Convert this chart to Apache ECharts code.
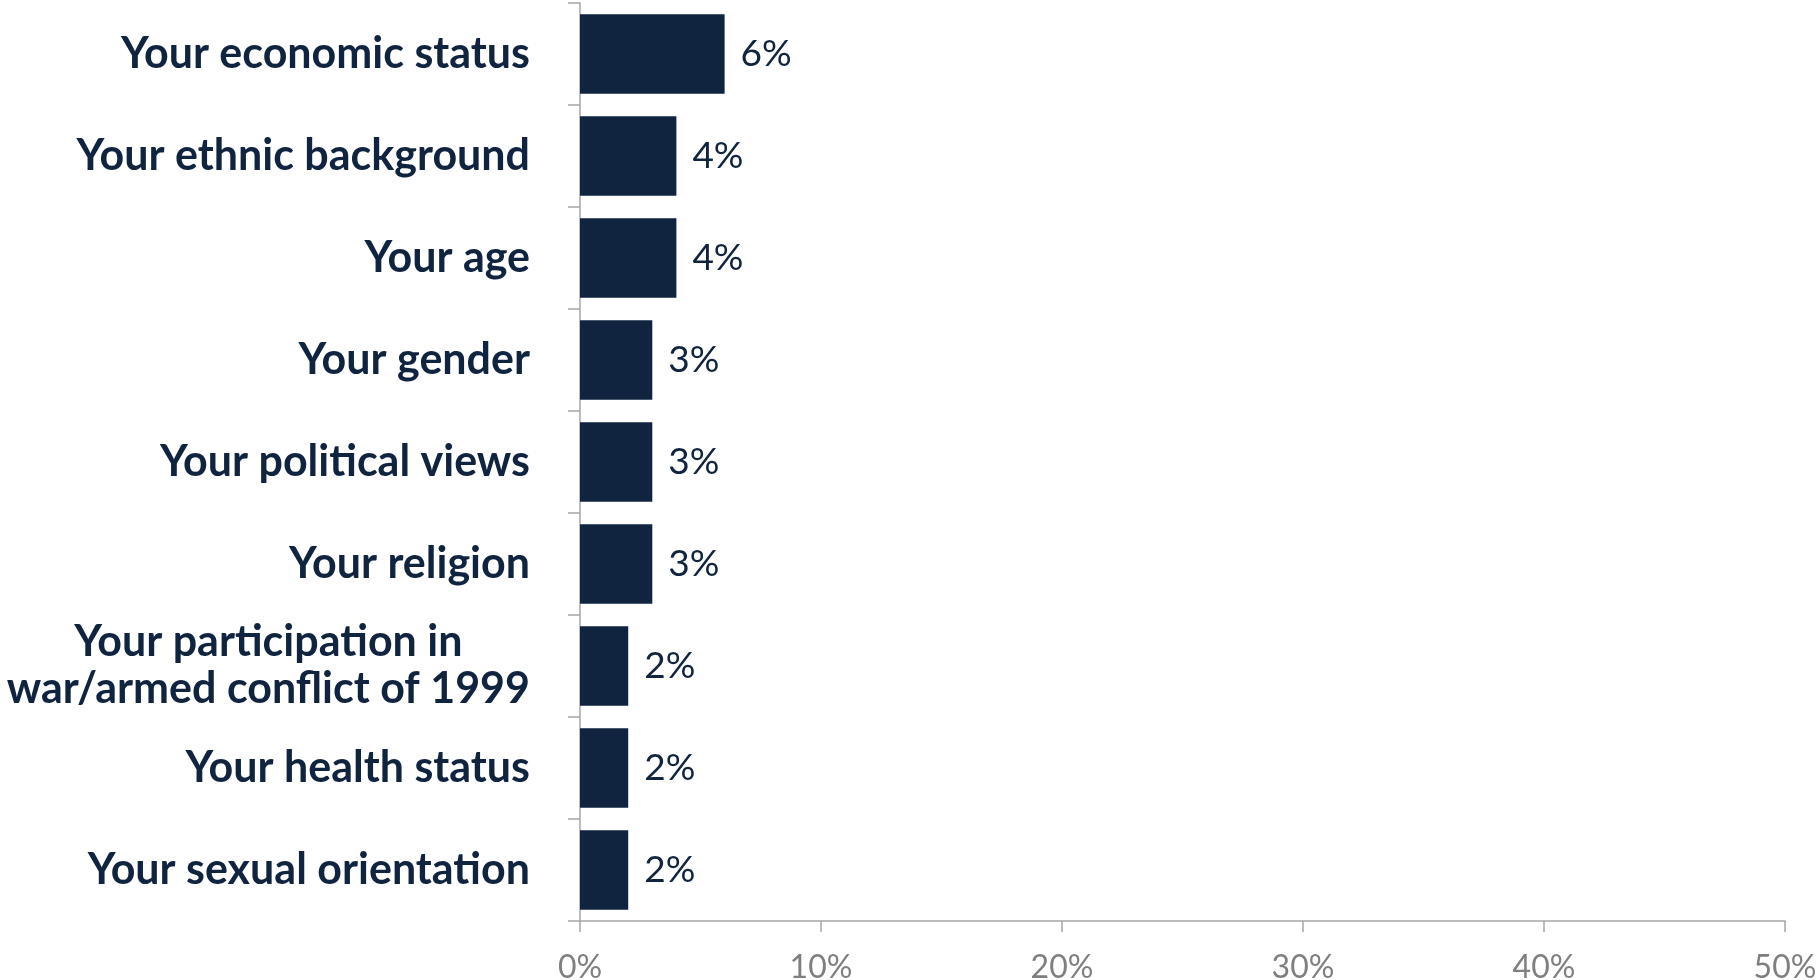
<!DOCTYPE html>
<html>
<head>
<meta charset="utf-8">
<script src="https://cdn.jsdelivr.net/npm/echarts@6/dist/echarts.min.js"></script>
<style>
  html, body { margin: 0; padding: 0; background: #fff; }
  #chart { width: 1818px; height: 980px; }
</style>
</head>
<body>
<div id="chart"></div>
<script>
const categories = [
  'Your economic status',
  'Your ethnic background',
  'Your age',
  'Your gender',
  'Your political views',
  'Your religion',
  'Your participation in\nwar/armed conflict of 1999',
  'Your health status',
  'Your sexual orientation'
];
const values = [6, 4, 4, 3, 3, 3, 2, 2, 2];
const xTicks = { min: 0, max: 50, step: 10 };

const navy = '#10233f';
const grey = '#a6a6a6';

let myChart = echarts.init(document.getElementById('chart'));

myChart.setOption({
  animation: false,
  grid: {
    left: 580, right: 33, top: 3, bottom: 59,
    containLabel: false,
    outerBoundsMode: 'none'
  },
  xAxis: {
    type: 'value',
    min: xTicks.min,
    max: xTicks.max,
    interval: xTicks.step,
    splitLine: { show: false },
    axisLine: { show: true, lineStyle: { color: grey, width: 1.5 } },
    axisTick: { show: true, length: 11, lineStyle: { color: grey, width: 1.5 } },
    axisLabel: {
      formatter: '{value}%',
      color: '#7f7f7f',
      fontFamily: 'Lato',
      fontSize: 32,
      margin: 31
    }
  },
  yAxis: {
    type: 'category',
    inverse: true,
    data: categories,
    axisLine: { show: true, lineStyle: { color: grey, width: 1.5 } },
    axisTick: { show: true, length: 12, lineStyle: { color: grey, width: 1.5 } },
    axisLabel: {
      margin: 50,
      formatter: function (v) {
        return v.split('\n').map(function (s) { return '{c|' + s + '}'; }).join('\n');
      },
      rich: {
        c: {
          align: 'center',
          color: navy,
          fontFamily: 'Lato',
          fontWeight: 'bold',
          fontSize: 43,
          lineHeight: 47
        }
      }
    }
  },
  series: [{
    type: 'bar',
    data: values,
    barCategoryGap: '22%',
    itemStyle: { color: navy },
    label: {
      show: true,
      position: 'right',
      distance: 16,
      formatter: '{c}%',
      color: navy,
      fontFamily: 'Lato',
      fontSize: 37
    }
  }]
});
</script>
</body>
</html>
